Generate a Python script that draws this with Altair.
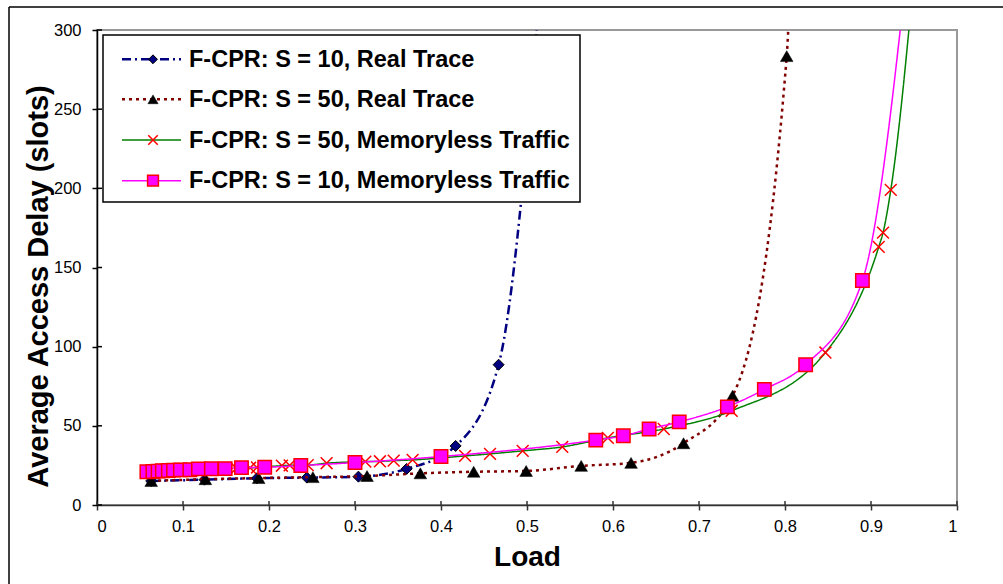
import altair as alt
import pandas as pd

series_names = [
    "F-CPR: S = 10, Real Trace",
    "F-CPR: S = 50, Real Trace",
    "F-CPR: S = 50, Memoryless Traffic",
    "F-CPR: S = 10, Memoryless Traffic",
]

s10_real_load = [0.063, 0.125, 0.186, 0.244, 0.304, 0.360, 0.417, 0.467, 0.516]
s10_real_delay = [15.2, 16.0, 16.9, 17.3, 17.9, 22.8, 37.3, 88.6, 330]

s50_real_load = [0.063, 0.126, 0.188, 0.251, 0.314, 0.376, 0.438, 0.499, 0.563,
                 0.621, 0.682, 0.739, 0.802, 0.806]
s50_real_delay = [15.2, 16.3, 17.0, 17.6, 18.3, 20.0, 21.0, 21.5, 24.7,
                  26.6, 39.0, 69.0, 283.5, 330]

s50_mem_load = [0.162, 0.178, 0.186, 0.215, 0.224, 0.245, 0.267, 0.312, 0.329,
                0.345, 0.367, 0.428, 0.457, 0.495, 0.541, 0.594, 0.659, 0.738,
                0.847, 0.909, 0.914, 0.923, 0.951]
s50_mem_delay = [23.2, 23.5, 23.7, 24.8, 25.0, 25.2, 26.4, 27.4, 27.6,
                 28.0, 28.5, 31.0, 32.3, 34.2, 36.7, 42.4, 48.0, 59.5,
                 96.3, 163.0, 172.0, 199.0, 340]

s10_mem_load = [0.058, 0.065, 0.071, 0.076, 0.083, 0.089, 0.097, 0.108, 0.118,
                0.133, 0.149, 0.168, 0.195, 0.237, 0.300, 0.400, 0.580, 0.612,
                0.642, 0.677, 0.733, 0.776, 0.824, 0.890, 0.946]
s10_mem_delay = [21.0, 21.2, 21.4, 21.6, 21.8, 22.0, 22.2, 22.3, 22.8,
                 22.9, 23.0, 23.6, 23.8, 24.9, 26.8, 30.6, 41.0, 43.7,
                 48.0, 52.5, 62.0, 73.0, 88.6, 141.8, 360]

x_ticks = [0, 0.1, 0.2, 0.3, 0.4, 0.5, 0.6, 0.7, 0.8, 0.9, 1]
y_ticks = [0, 50, 100, 150, 200, 250, 300]

loads = [s10_real_load, s50_real_load, s50_mem_load, s10_mem_load]
delays = [s10_real_delay, s50_real_delay, s50_mem_delay, s10_mem_delay]

X_CROSS = "M-1,-1L1,1M-1,1L1,-1"

styles = [
    dict(color="#000080", dash=[9, 4, 2, 4], width=2.5,
         shape="diamond", size=121, fill="#000080", stroke="#000000", sw=1, filled=True),
    dict(color="#800000", dash=[3, 4], width=2.5,
         shape="triangle-up", size=160, fill="#000000", stroke="#000000", sw=0.5, filled=True),
    dict(color="#008000", dash=[1, 0], width=1.5,
         shape=X_CROSS, size=140, fill=None, stroke="#FF0000", sw=1.5, filled=False),
    dict(color="#FF00FF", dash=[1, 0], width=1.5,
         shape="square", size=180, fill="#FF00FF", stroke="#FF0000", sw=1.5, filled=True),
]

xscale = alt.Scale(domain=[0, 1], nice=False, zero=False)
yscale = alt.Scale(domain=[0, 300], nice=False, zero=False)

xaxis = alt.Axis(values=x_ticks, format="~g", grid=False, title="Load",
                 titleFont="Liberation Sans", titleFontSize=28, titleFontWeight="bold",
                 titleX=430, titleY=60, titleBaseline="alphabetic", titleColor="#000",
                 labelFont="Liberation Sans", labelFontSize=16.5, labelColor="#000",
                 labelPadding=8, tickSize=5, tickColor="#333", domainColor="#333",
                 domainWidth=1.5, tickWidth=1.5)
yaxis = alt.Axis(values=y_ticks, grid=False, title="Average Access Delay (slots)",
                 titleFont="Liberation Sans", titleFontSize=29, titleFontWeight="bold",
                 titleX=-50, titleY=256, titleAngle=-90, titleAlign="center",
                 titleBaseline="alphabetic", titleColor="#000",
                 labelFont="Liberation Sans", labelFontSize=16.5, labelColor="#000",
                 labelPadding=11, tickSize=5, tickColor="#000", domainColor="#000",
                 domainWidth=1.5, tickWidth=1.5)


def X(field):
    return alt.X(field, scale=xscale, axis=xaxis)


def Y(field):
    return alt.Y(field, scale=yscale, axis=yaxis)


layers = []

# inner halves of the crossing tick marks
ytick_df = pd.DataFrame({"v": y_ticks})
xtick_df = pd.DataFrame({"v": x_ticks})
layers.append(alt.Chart(ytick_df).mark_rule(color="#000", strokeWidth=1.5).encode(
    y=Y("v:Q"), x=alt.value(0), x2=alt.value(5)))
layers.append(alt.Chart(xtick_df).mark_rule(color="#333", strokeWidth=1.5).encode(
    x=X("v:Q"), y=alt.value(475), y2=alt.value(471)))

for name, ld, dl, st in zip(series_names, loads, delays, styles):
    df = pd.DataFrame({"load": ld, "delay": dl, "series": name})
    base = alt.Chart(df)
    line = base.mark_line(color=st["color"], strokeDash=st["dash"], strokeWidth=st["width"],
                          interpolate="monotone", clip=True).encode(x=X("load:Q"), y=Y("delay:Q"))
    pkw = dict(shape=st["shape"], size=st["size"], stroke=st["stroke"],
               strokeWidth=st["sw"], filled=st["filled"], opacity=1, clip=True)
    if st["fill"] is not None:
        pkw["fill"] = st["fill"]
    pts = base.mark_point(**pkw).encode(x=X("load:Q"), y=Y("delay:Q"))
    layers += [line, pts]

# legend box
one = pd.DataFrame({"k": [0]})
layers.append(alt.Chart(one).mark_rect(fill="white", stroke="#000", strokeWidth=1.5).encode(
    x=alt.value(6), x2=alt.value(483), y=alt.value(5), y2=alt.value(172)))

row_mid = [29.3, 69.3, 110, 150.7]
row_base = [37, 77, 118, 158]
for name, st, ym, yb in zip(series_names, styles, row_mid, row_base):
    ldf = pd.DataFrame({"label": [name]})
    lb = alt.Chart(ldf)
    layers.append(lb.mark_rule(color=st["color"], strokeDash=st["dash"],
                               strokeWidth=st["width"]).encode(
        x=alt.value(25), x2=alt.value(84), y=alt.value(ym)))
    pkw = dict(shape=st["shape"], size=st["size"] * 0.65, stroke=st["stroke"],
               strokeWidth=st["sw"], filled=st["filled"], opacity=1)
    if st["fill"] is not None:
        pkw["fill"] = st["fill"]
    layers.append(lb.mark_point(**pkw).encode(x=alt.value(56), y=alt.value(ym)))
    layers.append(lb.mark_text(align="left", baseline="alphabetic", font="Liberation Sans",
                               fontSize=23.5, fontWeight="bold", color="#000").encode(
        x=alt.value(92), y=alt.value(yb), text="label:N"))

# outer frame (top and left edges)
layers.append(alt.Chart(one).mark_rule(color="#000", strokeWidth=1.5).encode(
    x=alt.value(-88), x2=alt.value(906), y=alt.value(-23)))
layers.append(alt.Chart(one).mark_rule(color="#000", strokeWidth=1.5).encode(
    x=alt.value(-88), y=alt.value(-23), y2=alt.value(554)))

chart = alt.layer(*layers).properties(
    width=860, height=475,
    autosize=alt.AutoSizeParams(type="none"),
    padding={"left": 97, "top": 30, "right": 46, "bottom": 79},
    background="white",
).configure_view(stroke="#999999", strokeWidth=2)

chart.save("out.html", embed_options={"renderer": "svg", "actions": False})
